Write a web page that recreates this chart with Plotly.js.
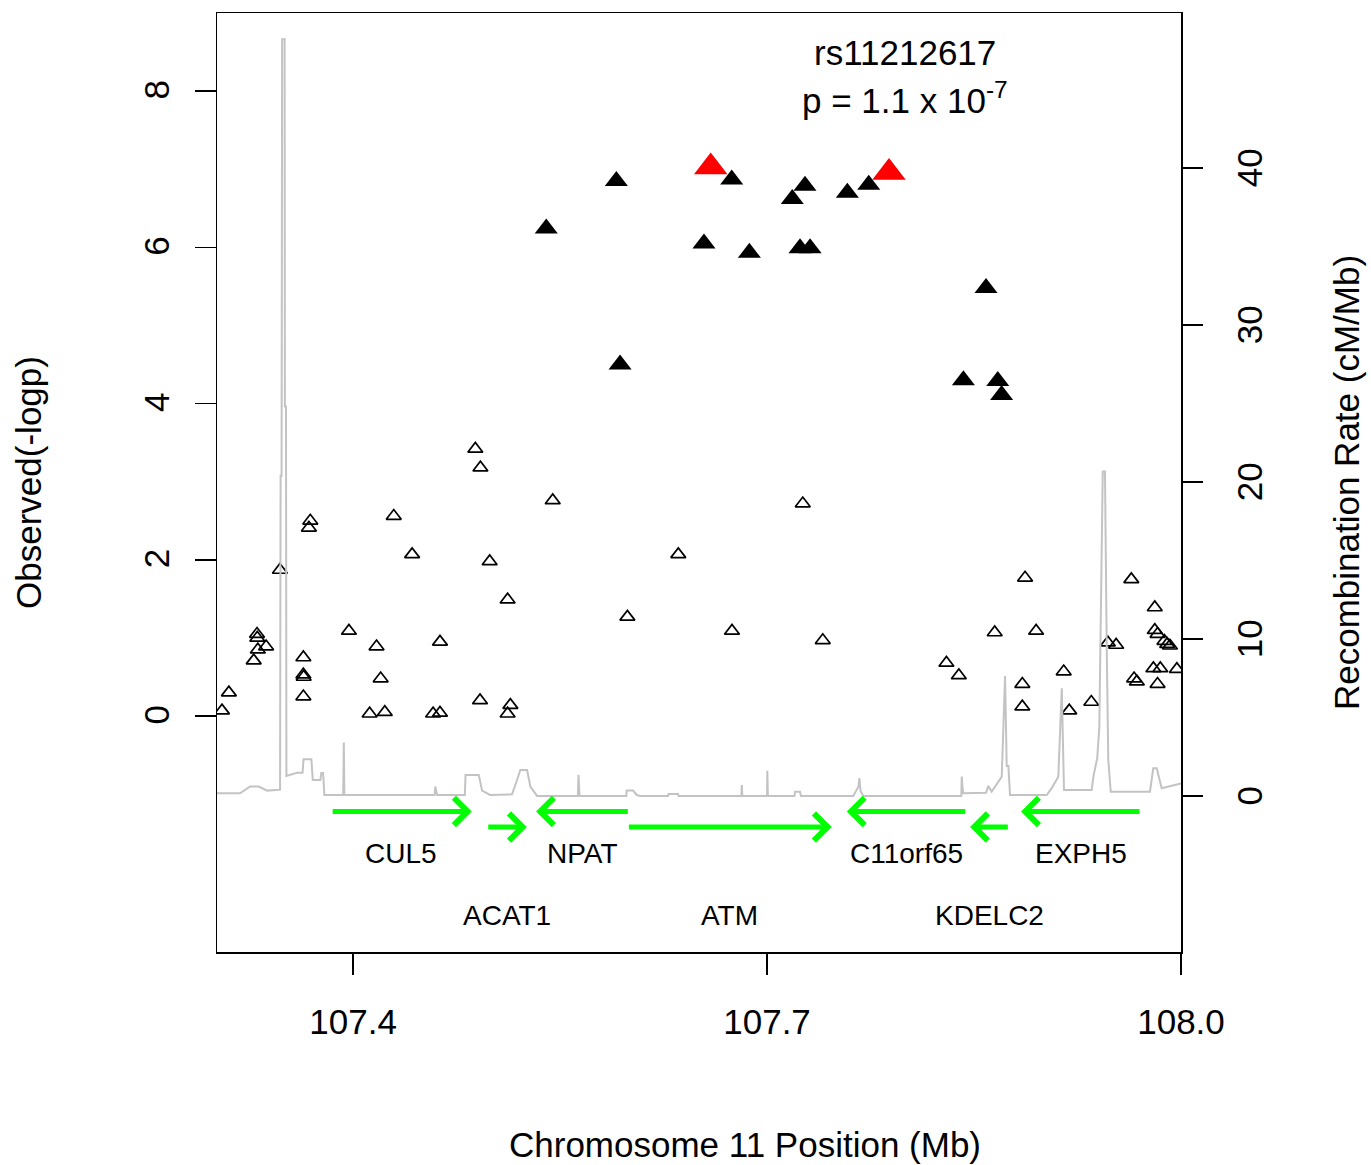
<!DOCTYPE html>
<html>
<head>
<meta charset="utf-8">
<script src="https://cdn.plot.ly/plotly-3.0.1.min.js"></script>
<style>
  html, body { margin: 0; padding: 0; background: #ffffff; }
  #plot { width: 1371px; height: 1165px; }
</style>
</head>
<body>
<div id="plot"></div>
<script>
// ---- Regional association data, chromosome 11 (positions in Mb) ----

// Typed SNPs with weaker association (open triangles)
const snpPos = [
  107.4886, 107.4923, 107.3690, 107.3680, 107.4295, 107.4428, 107.4990, 107.5120,
  107.3470, 107.3304, 107.3306, 107.3370, 107.3310, 107.3280, 107.3100, 107.3050,
  107.3970, 107.4170, 107.3640, 107.3640, 107.3642, 107.3640, 107.4200, 107.4120,
  107.4230, 107.4580, 107.4630, 107.4630, 107.4920, 107.5140, 107.5120, 107.5447,
  107.7259, 107.6357, 107.5988, 107.6746, 107.7404, 107.8870, 107.9640, 107.9810,
  107.8650, 107.8950, 107.9810, 107.9830, 107.9880, 107.9900, 107.9920, 107.9470,
  107.9530, 107.8300, 107.8390, 107.8850, 107.8850, 107.9150, 107.9190, 107.9350,
  107.9660, 107.9680, 107.9800, 107.9850, 107.9830, 107.9970
];
const snpLogP = [
  3.42, 3.18, 2.50, 2.41, 2.56, 2.07, 1.98, 1.49,
  1.87, 1.05, 1.00, 0.89, 0.85, 0.71, 0.30, 0.07,
  1.09, 0.89, 0.75, 0.53, 0.50, 0.25, 0.48, 0.03,
  0.05, 0.03, 0.04, 0.95, 0.20, 0.14, 0.03, 2.76,
  2.72, 2.07, 1.27, 1.09, 0.97, 1.77, 1.75, 1.39,
  1.07, 1.09, 1.10, 1.05, 0.96, 0.92, 0.90, 0.94,
  0.91, 0.68, 0.52, 0.41, 0.12, 0.57, 0.07, 0.18,
  0.48, 0.44, 0.61, 0.61, 0.41, 0.60
];

// SNPs in the associated block (filled triangles)
const blockPos = [
  107.5908, 107.6744, 107.7275, 107.7183, 107.7582, 107.7737, 107.5400, 107.6543,
  107.6872, 107.7239, 107.7312, 107.5935, 107.8587, 107.8423, 107.8672, 107.8700
];
const blockLogP = [
  6.85, 6.87, 6.79, 6.62, 6.70, 6.80, 6.24, 6.05,
  5.93, 5.99, 5.99, 4.50, 5.48, 4.30, 4.29, 4.11
];

// Top SNPs (red triangles); the lead SNP's height comes from its p-value
const leadSnp = "rs11212617";
const leadPValue = 1.1e-7;
const leadPos = 107.7884;
const otherTopPos = 107.6592;
const otherTopLogP = 7.03;

// Recombination rate (cM/Mb)
const recPos = [
  107.3014, 107.3181, 107.3254, 107.3317, 107.3377, 107.3471, 107.3475, 107.3482,
  107.3486, 107.3504, 107.3506, 107.3514, 107.3517, 107.3594, 107.3634, 107.3641,
  107.3698, 107.3708, 107.3763, 107.3770, 107.3783, 107.3792, 107.3929, 107.3933,
  107.3937, 107.4591, 107.4596, 107.4609, 107.4810, 107.4815, 107.4911, 107.4935,
  107.4993, 107.5152, 107.5188, 107.5212, 107.5261, 107.5285, 107.5333, 107.5629,
  107.5634, 107.5641, 107.5980, 107.5983, 107.6029, 107.6056, 107.6080, 107.6283,
  107.6286, 107.6355, 107.6359, 107.6814, 107.6817, 107.6821, 107.7000, 107.7002,
  107.7006, 107.7199, 107.7203, 107.7239, 107.7246, 107.7625, 107.7663, 107.7669,
  107.7678, 107.7698, 107.8408, 107.8411, 107.8420, 107.8587, 107.8604, 107.8628,
  107.8701, 107.8725, 107.8737, 107.8749, 107.8761, 107.9027, 107.9063, 107.9099,
  107.9111, 107.9136, 107.9152, 107.9353, 107.9365, 107.9393, 107.9408, 107.9433,
  107.9449, 107.9462, 107.9473, 107.9491, 107.9775, 107.9799, 107.9824, 107.9860,
  108.0000
];
const recRate = [
  0.17, 0.17, 0.60, 0.60, 0.34, 0.40, 20.4, 20.4,
  48.2, 48.2, 24.8, 24.8, 1.27, 1.48, 1.48, 2.34,
  2.34, 1.02, 1.02, 1.46, 1.46, 0.06, 0.06, 3.40,
  0.06, 0.06, 0.60, 0.06, 0.06, 1.34, 1.34, 0.34,
  0.06, 0.10, 1.00, 1.66, 1.66, 0.60, 0.00, 0.00,
  1.34, 0.00, 0.00, 0.34, 0.34, 0.06, 0.00, 0.00,
  0.13, 0.13, 0.00, 0.00, 0.70, 0.00, 0.00, 1.61,
  0.00, 0.00, 0.27, 0.27, 0.00, 0.00, 0.60, 1.13,
  0.30, 0.00, 0.00, 1.23, 0.17, 0.20, 0.64, 0.27,
  1.23, 7.64, 1.90, 1.90, 0.06, 0.06, 0.50, 1.00,
  1.23, 6.86, 0.38, 0.38, 1.23, 2.42, 4.40, 20.66,
  20.66, 9.30, 2.30, 0.27, 0.27, 1.76, 1.76, 0.49,
  0.80
];

// Genes in the region
const geneNames  = ["CUL5", "ACAT1", "NPAT", "ATM", "C11orf65", "KDELC2", "EXPH5"];
const geneStart  = [107.3841, 107.4969, 107.5326, 107.5988, 107.7578, 107.8471, 107.8841];
const geneEnd    = [107.4860, 107.5259, 107.6002, 107.7469, 107.8447, 107.8756, 107.9710];
const geneStrand = ["+", "+", "-", "+", "-", "-", "-"];
const geneRow    = [1, 2, 1, 2, 1, 2, 1];

// Axis ticks
const xTicks = [107.4, 107.7, 108.0];
const xTickText = ["107.4", "107.7", "108.0"];
const yTicks = [0, 2, 4, 6, 8];
const y2Ticks = [0, 10, 20, 30, 40];

// ---- Drawing ----
const FONT = "Liberation Sans, Arial, sans-serif";
const leadLogP = -Math.log10(leadPValue);
const [pMantissa, pExponent] = leadPValue.toExponential(1).split("e");

// gene track rows expressed on the -log10(p) scale
const arrowY = {1: -1.22, 2: -1.42};
const labelY = {1: -1.755, 2: -2.55};

const traces = [
  {
    x: recPos, y: recRate, yaxis: "y2", type: "scatter", mode: "lines",
    line: {color: "#c3c3c3", width: 2}, hoverinfo: "skip"
  },
  {
    x: snpPos, y: snpLogP, type: "scatter", mode: "markers",
    marker: {symbol: "triangle-up-open", size: 13, color: "#000000", line: {width: 1.7, color: "#000000"}}
  },
  {
    x: blockPos, y: blockLogP, type: "scatter", mode: "markers",
    marker: {symbol: "triangle-up", size: 20, color: "#000000", line: {width: 0}}
  },
  {
    x: [otherTopPos, leadPos], y: [otherTopLogP, leadLogP], type: "scatter", mode: "markers",
    marker: {symbol: "triangle-up", size: 29, color: "#ff0000", line: {width: 0}}
  }
];

const annotations = [];
geneNames.forEach((name, i) => {
  const y = arrowY[geneRow[i]];
  const head = geneStrand[i] === "+" ? geneEnd[i] : geneStart[i];
  const tail = geneStrand[i] === "+" ? geneStart[i] : geneEnd[i];
  annotations.push({
    x: head, y: y, ax: tail, ay: y,
    xref: "x", yref: "y", axref: "x", ayref: "y",
    text: "", showarrow: true, arrowhead: 4, arrowsize: 1.05,
    arrowwidth: 5, arrowcolor: "#00ff00"
  });
  annotations.push({
    x: (geneStart[i] + geneEnd[i]) / 2, y: labelY[geneRow[i]],
    xref: "x", yref: "y", text: name, showarrow: false,
    xanchor: "center", yanchor: "middle",
    font: {family: FONT, size: 28, color: "#000000"}
  });
});
annotations.push({
  x: 107.8, y: 8.49, xref: "x", yref: "y", text: leadSnp, showarrow: false,
  xanchor: "center", yanchor: "middle", font: {family: FONT, size: 35, color: "#000000"}
});
annotations.push({
  x: 107.8, y: 7.91, xref: "x", yref: "y",
  text: "p = " + pMantissa + " x 10<sup>" + pExponent + "</sup>",
  showarrow: false, xanchor: "center", yanchor: "middle",
  font: {family: FONT, size: 35, color: "#000000"}
});
// x-axis title
annotations.push({
  x: 0.5477, y: -0.2055, xref: "paper", yref: "paper",
  text: "Chromosome 11 Position (Mb)", showarrow: false,
  xanchor: "center", yanchor: "middle",
  font: {family: FONT, size: 35, color: "#000000"}
});

const axisCommon = {
  showgrid: false, zeroline: false, ticks: "outside", ticklen: 21, tickwidth: 1.5,
  tickcolor: "#000000", tickfont: {family: FONT, size: 35, color: "#000000"},
  linecolor: "#000000", linewidth: 1.5, fixedrange: true
};

const layout = {
  width: 1371, height: 1165,
  margin: {l: 217, r: 190, t: 13, b: 213, pad: 0},
  paper_bgcolor: "#ffffff", plot_bgcolor: "#ffffff",
  showlegend: false,
  font: {family: FONT, color: "#000000"},
  xaxis: Object.assign({}, axisCommon, {
    range: [107.3014, 108.0], tickmode: "array", tickvals: xTicks, ticktext: xTickText,
    showline: true, mirror: true, ticklabelstandoff: 17
  }),
  yaxis: Object.assign({}, axisCommon, {
    range: [-3.02, 9.0], tickmode: "array", tickvals: yTicks, tickangle: -90,
    showline: true, mirror: true, ticklabelstandoff: 12, ticklabelshift: 4,
    title: {text: "Observed(-logp)", font: {family: FONT, size: 35, color: "#000000"}, standoff: 84}
  }),
  yaxis2: Object.assign({}, axisCommon, {
    range: [-9.94, 49.87], tickmode: "array", tickvals: y2Ticks, tickangle: -90,
    overlaying: "y", side: "right", showline: false, ticklabelstandoff: 17, ticklabelshift: 5,
    title: {text: "Recombination Rate (cM/Mb)", font: {family: FONT, size: 35, color: "#000000"}, standoff: 66}
  }),
  annotations: annotations
};

Plotly.newPlot("plot", traces, layout, {displayModeBar: false, staticPlot: true});
</script>
</body>
</html>
